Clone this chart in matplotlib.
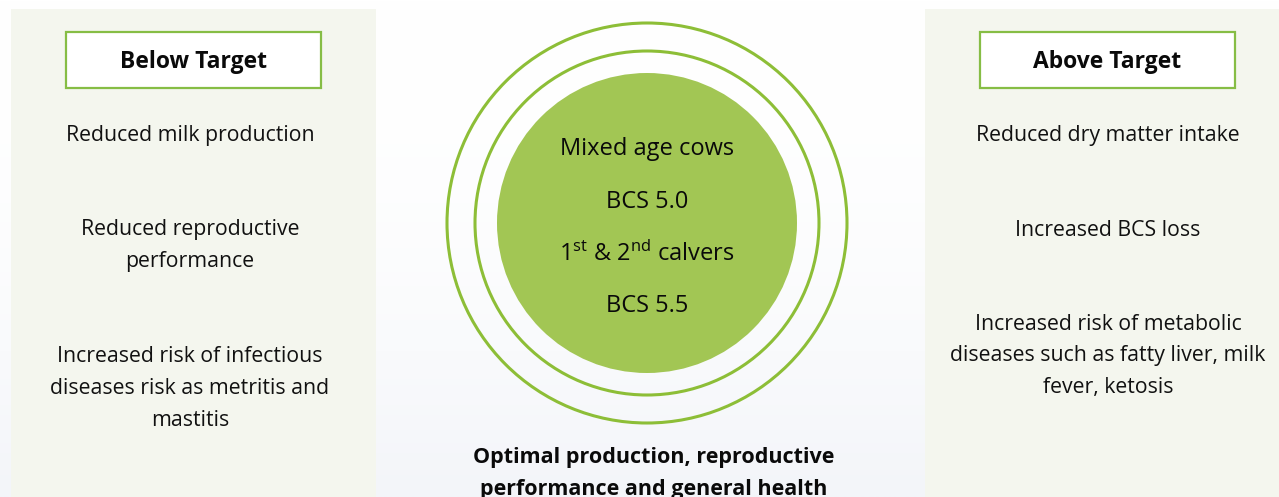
import matplotlib
matplotlib.use("Agg")
import matplotlib.pyplot as plt
from matplotlib.patches import Rectangle, Circle
import numpy as np

plt.rcParams['font.family'] = ['Open Sans', 'DejaVu Sans']
plt.rcParams['mathtext.fontset'] = 'custom'
plt.rcParams['mathtext.rm'] = 'Open Sans'
plt.rcParams['mathtext.it'] = 'Open Sans'

left_header = "Below Target"
right_header = "Above Target"
left_items = ["Reduced milk production",
              "Reduced reproductive\nperformance",
              "Increased risk of infectious\ndiseases risk as metritis and\nmastitis"]
right_items = ["Reduced dry matter intake",
               "Increased BCS loss",
               "Increased risk of metabolic\ndiseases such as fatty liver, milk\nfever, ketosis"]
circle_lines = ["Mixed age cows", "BCS 5.0",
                r"1$^{\mathrm{st}}$ & 2$^{\mathrm{nd}}$ calvers", "BCS 5.5"]
bottom_text = "Optimal production, reproductive\nperformance and general health"

W, H = 1279, 497
fig = plt.figure(figsize=(W/100, H/100), dpi=100)
ax = fig.add_axes([0, 0, 1, 1])
ax.set_xlim(0, W)
ax.set_ylim(H, 0)
ax.axis('off')

# background gradient
grad = np.linspace(0, 1, 200).reshape(-1, 1)
top = np.array([1.0, 1.0, 1.0])
bot = np.array([0xF3, 0xF5, 0xF9]) / 255
img = top + (bot - top) * grad[..., None] ** 2
img = np.repeat(img, 2, axis=1)
ax.imshow(img, extent=[0, W, H, 0], aspect='auto', zorder=0)

panel_col = '#F4F6EE'
green_line = '#86BD45'
ax.add_patch(Rectangle((11, 9), 365, 500, facecolor=panel_col, edgecolor='none', zorder=1))
ax.add_patch(Rectangle((925, 9), 360, 500, facecolor=panel_col, edgecolor='none', zorder=1))

ax.add_patch(Rectangle((66, 32), 255, 56, facecolor='white', edgecolor=green_line, lw=1.6, zorder=2))
ax.add_patch(Rectangle((980, 32), 255, 56, facecolor='white', edgecolor=green_line, lw=1.6, zorder=2))
hfs = 16.5
ax.text(193, 62, left_header, ha='center', va='center', fontsize=hfs, fontweight='bold', color='#0a0a0a', zorder=3)
ax.text(1107, 62, right_header, ha='center', va='center', fontsize=hfs, fontweight='bold', color='#0a0a0a', zorder=3)

fs = 15.3
lh = 32
for items, cx, ys in [(left_items, 190, [136, 230, 356]), (right_items, 1108, [136, 230, 324])]:
    for t, y in zip(items, ys):
        for k, line in enumerate(t.split("\n")):
            ax.text(cx, y + k * lh, line, ha='center', va='center', fontsize=fs, color='#111111', zorder=3)

cx, cy = 647, 223
ax.add_patch(Circle((cx, cy), 200, facecolor='none', edgecolor='#8DBE37', lw=2.2, zorder=2))
ax.add_patch(Circle((cx, cy), 172, facecolor='none', edgecolor='#8DBE37', lw=2.2, zorder=2))
ax.add_patch(Circle((cx, cy), 150, facecolor='#A2C654', edgecolor='none', zorder=2))
for line, y in zip(circle_lines, [149, 202, 254, 306]):
    ax.text(cx, y, line, ha='center', va='center', fontsize=17, color='#0a0a0a', zorder=3)

for k, line in enumerate(bottom_text.split("\n")):
    ax.text(654, 457 + k * lh, line, ha='center', va='center', fontsize=15.5, fontweight='bold', color='#0a0a0a', zorder=3)

fig.savefig("out.png", dpi=100)
